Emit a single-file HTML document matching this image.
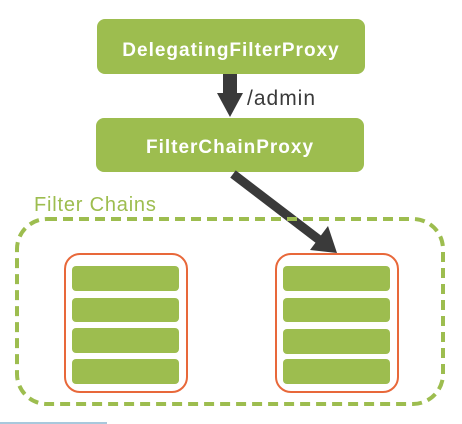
<!DOCTYPE html>
<html><head><style>
body{margin:0;width:462px;height:424px;background:#fff;overflow:hidden;position:relative;font-family:"Liberation Sans",sans-serif}
</style></head><body>
<svg width="462" height="424" style="position:absolute;left:0;top:0">
<rect x="97" y="19" width="268" height="55" rx="8" fill="#9dbd4f"/>
<text x="231" y="56" text-anchor="middle" fill="#fff" font-size="19" letter-spacing="1" font-weight="bold" font-family="Liberation Sans">DelegatingFilterProxy</text>
<rect x="96" y="118" width="268" height="54" rx="8" fill="#9dbd4f"/>
<text x="230" y="153" text-anchor="middle" fill="#fff" font-size="19" letter-spacing="1" font-weight="bold" font-family="Liberation Sans">FilterChainProxy</text>
<rect x="223" y="74" width="14" height="22" fill="#3a3a3a"/>
<polygon points="217,93 243,93 230,117" fill="#3a3a3a"/>
<text x="247" y="105" fill="#3a3a3a" font-size="21" letter-spacing="1" font-family="Liberation Sans">/admin</text>
<line x1="233" y1="174" x2="322" y2="242" stroke="#3a3a3a" stroke-width="9"/>
<polygon points="310,250 328,226 337,253" fill="#3a3a3a"/>
<text x="34" y="211" fill="#9dbd4f" font-size="20" letter-spacing="0.8" font-family="Liberation Sans">Filter Chains</text>
<rect x="17" y="219" width="426" height="185" rx="30" fill="none" stroke="#9dbd4f" stroke-width="4" stroke-dasharray="10,6"/>
<rect x="65" y="254" width="122" height="138" rx="15" fill="none" stroke="#e8683a" stroke-width="2"/>
<rect x="276" y="254" width="122" height="138" rx="15" fill="none" stroke="#e8683a" stroke-width="2"/>
<g fill="#9dbd4f">
<rect x="72" y="266" width="107" height="25" rx="4"/><rect x="72" y="298" width="107" height="24" rx="4"/>
<rect x="72" y="328" width="107" height="25" rx="4"/><rect x="72" y="359" width="107" height="25" rx="4"/>
<rect x="283" y="266" width="107" height="25" rx="4"/><rect x="283" y="298" width="107" height="24" rx="4"/>
<rect x="283" y="329" width="107" height="25" rx="4"/><rect x="283" y="359" width="107" height="25" rx="4"/>
</g>
<rect x="0" y="422" width="107" height="2" fill="#a8c8dc"/>
</svg>
</body></html>
